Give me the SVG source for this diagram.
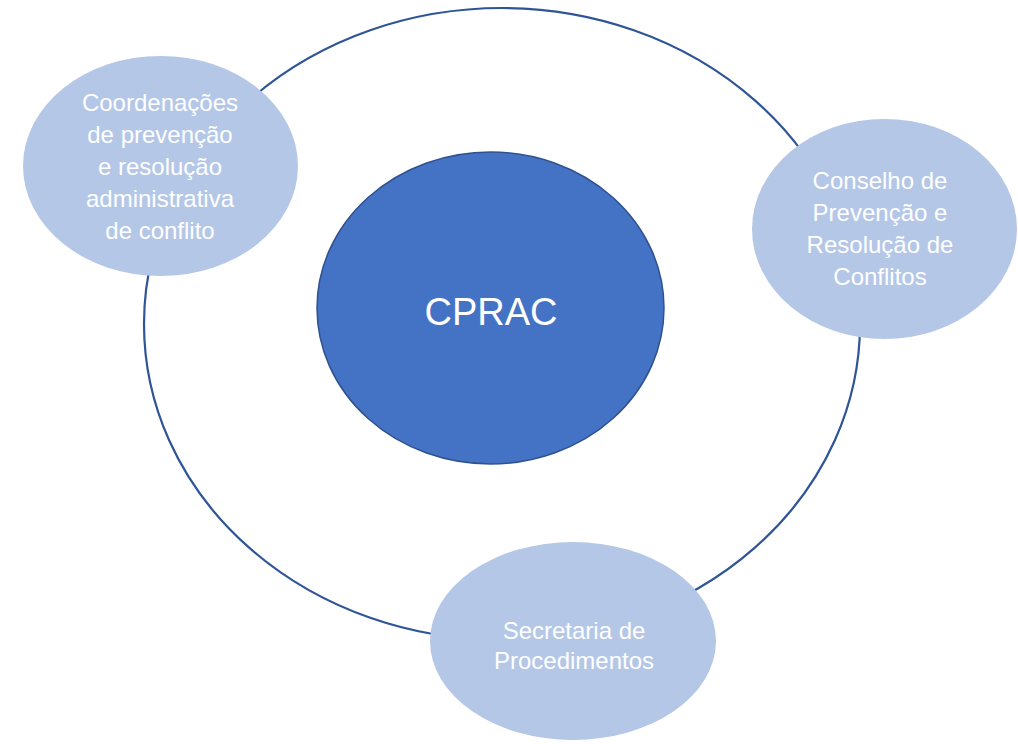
<svg xmlns="http://www.w3.org/2000/svg" width="1018" height="744" viewBox="0 0 1018 744">
  <style>
    .ring { fill: none; stroke: #2F5597; stroke-width: 2.2; }
    .sat { fill: #B4C7E7; stroke: none; }
    .core { fill: #4472C4; stroke: #2F528F; stroke-width: 1.5; }
    .lbl { font-family: "Liberation Sans", Arial, sans-serif; font-size: 24px; fill: #FFFFFF; text-anchor: middle; }
    .big { font-family: "Liberation Sans", Arial, sans-serif; font-size: 38px; fill: #FFFFFF; text-anchor: middle; }
  </style>
  <rect width="1018" height="744" fill="#FFFFFF"/>
  <g id="connectors">
    <ellipse class="ring" cx="502" cy="324" rx="358" ry="316"/>
  </g>
  <g id="node-cprac">
    <ellipse class="core" cx="490.5" cy="308" rx="173.5" ry="156"/>
    <text class="big" x="491" y="325">CPRAC</text>
  </g>
  <g id="node-coordenacoes">
    <ellipse class="sat" cx="160.5" cy="166" rx="137.5" ry="110"/>
    <text class="lbl" x="160" y="111">Coordenações</text>
    <text class="lbl" x="160" y="143">de prevenção</text>
    <text class="lbl" x="160" y="175">e resolução</text>
    <text class="lbl" x="160" y="207">administrativa</text>
    <text class="lbl" x="160" y="239">de conflito</text>
  </g>
  <g id="node-conselho">
    <ellipse class="sat" cx="884.5" cy="229" rx="132.5" ry="110"/>
    <text class="lbl" x="880" y="189">Conselho de</text>
    <text class="lbl" x="880" y="221">Prevenção e</text>
    <text class="lbl" x="880" y="253">Resolução de</text>
    <text class="lbl" x="880" y="285">Conflitos</text>
  </g>
  <g id="node-secretaria">
    <ellipse class="sat" cx="573" cy="641" rx="143" ry="99"/>
    <text class="lbl" x="574" y="639">Secretaria de</text>
    <text class="lbl" x="574" y="669">Procedimentos</text>
  </g>
</svg>
